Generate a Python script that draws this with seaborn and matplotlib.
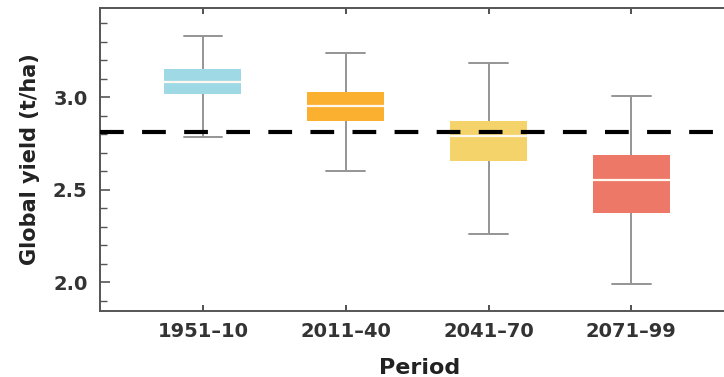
import matplotlib
matplotlib.use("Agg")
import matplotlib.pyplot as plt
import seaborn as sns
import pandas as pd
from matplotlib.ticker import MultipleLocator

# Values (t/ha)
periods = ["1951\u201310", "2011\u201340", "2041\u201370", "2071\u201399"]
whisker_low = [2.787, 2.602, 2.259, 1.991]
q1 = [3.018, 2.870, 2.656, 2.376]
median = [3.084, 2.953, 2.791, 2.553]
q3 = [3.151, 3.029, 2.874, 2.688]
whisker_high = [3.333, 3.241, 3.187, 3.007]
baseline = 2.814

box_colors = ["#9fd9e6", "#fbb12f", "#f3d36a", "#ee7868"]

# five points per period -> quartiles/median exactly, whiskers at min/max
rows = []
for i, p in enumerate(periods):
    for v in [whisker_low[i], q1[i], median[i], q3[i], whisker_high[i]]:
        rows.append({"Period": p, "yield": v})
df = pd.DataFrame(rows)

sns.set_style("ticks")
plt.rcParams["font.family"] = ["DejaVu Sans"]

fig = plt.figure(figsize=(7.24, 3.77), dpi=100)
ax = fig.add_axes([100 / 724, 1 - 311 / 377, 1 - 100 / 724 + 0.02, 303 / 377])

sns.boxplot(data=df, x="Period", y="yield", hue="Period", palette=box_colors,
            order=periods, hue_order=periods, legend=False,
            whis=(0, 100), width=0.54, saturation=1, ax=ax,
            boxprops=dict(edgecolor="none", linewidth=0),
            whiskerprops=dict(color="#959595", linewidth=1.4),
            capprops=dict(color="#959595", linewidth=1.4),
            medianprops=dict(color="#fff8f0", linewidth=1.6),
            showfliers=False)
# caps half the box width
for line in ax.lines:
    xd = line.get_xdata()
    if len(xd) == 2 and xd[0] != xd[1] and abs(xd[1] - xd[0]) < 0.3:
        c = (xd[0] + xd[1]) / 2
        line.set_xdata([c - 0.135, c + 0.135])

ax.axhline(baseline, color="black", linewidth=3, linestyle=(0, (5.7, 4.4)), zorder=5)

ax.set_xlim(-0.72, 3.75)
ax.set_ylim(1.845, 3.483)
ax.yaxis.set_major_locator(MultipleLocator(0.5))
ax.yaxis.set_minor_locator(MultipleLocator(0.1))
ax.yaxis.set_major_formatter(matplotlib.ticker.FormatStrFormatter("%.1f"))

for s in ["left", "bottom", "top"]:
    ax.spines[s].set_color("#555555")
    ax.spines[s].set_linewidth(1.4)
ax.spines["right"].set_visible(False)

ax.tick_params(axis="y", which="both", direction="in", color="#555555",
               labelsize=14, labelcolor="#333333", pad=9)
ax.tick_params(axis="y", which="major", length=7, width=1.2)
ax.tick_params(axis="y", which="minor", length=5, width=1.0)
ax.tick_params(axis="x", direction="in", top=True, length=4, width=1.2,
               color="#333333", labelsize=14, labelcolor="#333333", pad=8)
for lab in ax.get_xticklabels() + ax.get_yticklabels():
    lab.set_fontweight("bold")

ax.set_xlabel("Period", fontsize=16, fontweight="bold", color="#222222", labelpad=12)
ax.set_ylabel("Global yield (t/ha)", fontsize=15, fontweight="bold", color="#222222", labelpad=9)

fig.savefig("out.png", dpi=100)
